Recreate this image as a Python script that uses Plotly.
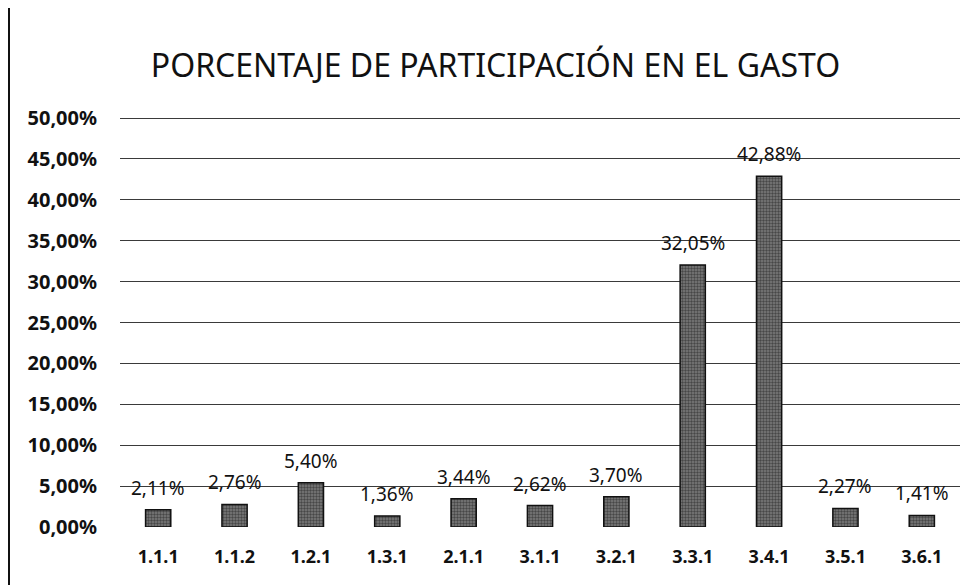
import plotly.graph_objects as go

categories = ["1.1.1", "1.1.2", "1.2.1", "1.3.1", "2.1.1", "3.1.1", "3.2.1", "3.3.1", "3.4.1", "3.5.1", "3.6.1"]
values = [0.0211, 0.0276, 0.0540, 0.0136, 0.0344, 0.0262, 0.0370, 0.3205, 0.4288, 0.0227, 0.0141]
title_text = "PORCENTAJE DE PARTICIPACIÓN EN EL GASTO"

W, H = 968, 577
L, R, T, B = 112, 16, 106, 58
plot_w = W - L - R
plot_h = H - T - B

fig = go.Figure()
fig.add_trace(go.Bar(
    x=categories, y=values,
    marker=dict(color="#666666", line=dict(color="#111111", width=1.5),
                pattern=dict(shape=".", fgcolor="#111111", bgcolor="#7c7c7c", size=3, solidity=0.5)),
    hoverinfo="x+y",
))

for c, v in zip(categories, values):
    fig.add_annotation(x=c, y=v, xref="x", yref="y", yanchor="bottom", yshift=7,
                       text=f"{v*100:.2f}%".replace(".", ","), showarrow=False,
                       font=dict(family="Noto Sans", size=19, color="#111111"))

fig.update_layout(
    width=W, height=H,
    margin=dict(l=L, r=R, t=T, b=B),
    paper_bgcolor="white", plot_bgcolor="white",
    separators=",.",
    bargap=0.67,
    showlegend=False,
    title=dict(text=title_text, x=0.5036, xanchor="center", y=0.9, yanchor="middle",
               font=dict(family="Noto Sans", size=32, color="#111111")),
    xaxis=dict(showline=False, ticks="", ticklabelstandoff=17,
               tickfont=dict(family="Noto Sans", size=18, color="#111111", weight="bold")),
    yaxis=dict(range=[0, 0.505], tickvals=[i * 0.05 for i in range(11)], tickformat=".2%",
               showgrid=True, gridcolor="#3a3a3a", gridwidth=1,
               zeroline=False, ticks="", ticklabelstandoff=22,
               tickfont=dict(family="Noto Sans", size=20, color="#111111", weight="bold")),
)
fig.add_shape(type="line", xref="paper", yref="paper",
              x0=-(L - 1) / plot_w, x1=-(L - 1) / plot_w, y0=-B / plot_h, y1=1 + T / plot_h,
              line=dict(color="#111111", width=2))
fig.write_html("out.html")
